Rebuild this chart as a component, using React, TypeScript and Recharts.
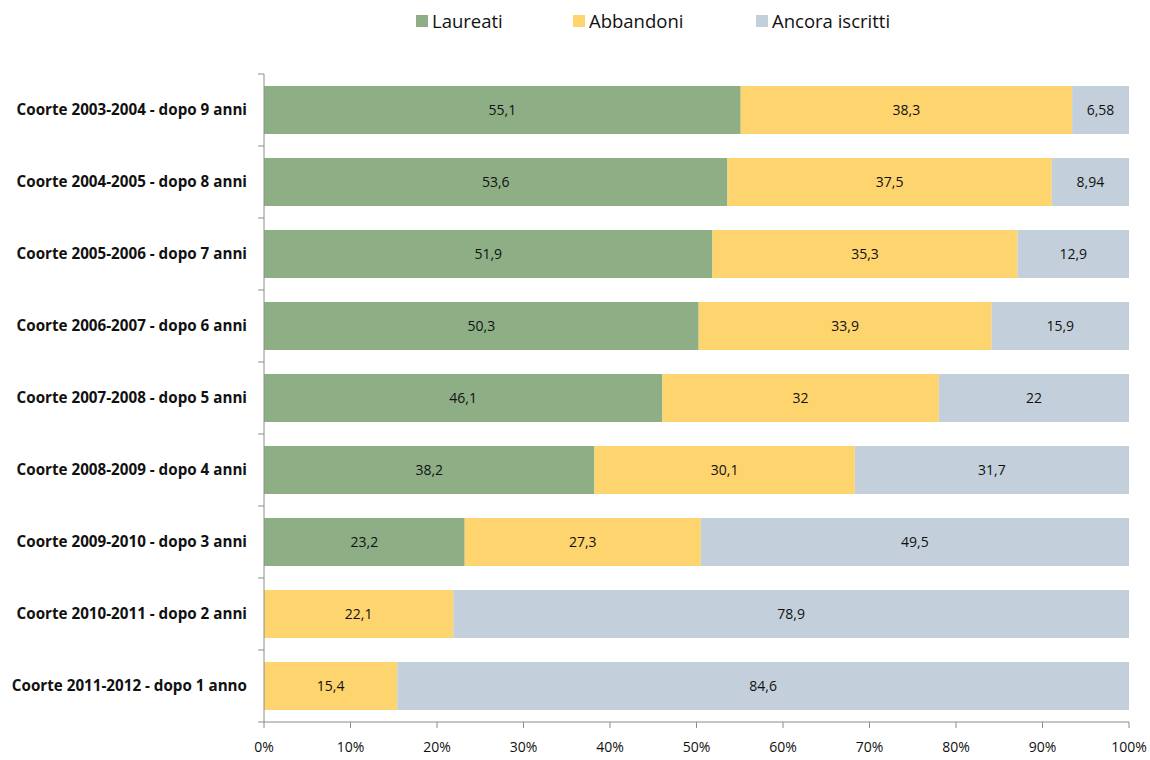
import React from 'react'
import { BarChart, Bar, XAxis, YAxis, LabelList } from 'recharts'

const categories = [
  'Coorte 2003-2004 - dopo 9 anni',
  'Coorte 2004-2005 - dopo 8 anni',
  'Coorte 2005-2006 - dopo 7 anni',
  'Coorte 2006-2007 - dopo 6 anni',
  'Coorte 2007-2008 - dopo 5 anni',
  'Coorte 2008-2009 - dopo 4 anni',
  'Coorte 2009-2010 - dopo 3 anni',
  'Coorte 2010-2011 - dopo 2 anni',
  'Coorte 2011-2012 - dopo 1 anno',
]
const laureati = [55.1, 53.6, 51.9, 50.3, 46.1, 38.2, 23.2, 0, 0]
const abbandoni = [38.3, 37.5, 35.3, 33.9, 32, 30.1, 27.3, 22.1, 15.4]
const ancoraIscritti = [6.58, 8.94, 12.9, 15.9, 22, 31.7, 49.5, 78.9, 84.6]
const xTicks = [0, 0.1, 0.2, 0.3, 0.4, 0.5, 0.6, 0.7, 0.8, 0.9, 1]

const series = [
  { key: 'laureati', name: 'Laureati', color: '#8EAF86', legendX: 416 },
  { key: 'abbandoni', name: 'Abbandoni', color: '#FED46F', legendX: 573 },
  { key: 'ancora', name: 'Ancora iscritti', color: '#C3D0DB', legendX: 756 },
]

const data = categories.map((name, i) => ({
  name,
  laureati: laureati[i],
  abbandoni: abbandoni[i],
  ancora: ancoraIscritti[i],
}))

const FONT = '"Open Sans", Lato, sans-serif'
const AXIS = '#8C8C8C'
const TOP = 74
const PLOT_H = 648
const BAND = PLOT_H / categories.length

const fmt = (v: any) => (v ? String(v).replace('.', ',') : '')

const CategoryTick = (props: any) => {
  const { x, y, payload, index } = props
  // x sits 8px left of the axis line here
  return (
    <g>
      <text x={x - 9} y={y} dy={5} textAnchor="end" fontSize={15.2} fontWeight={700} fill="#111" fontFamily={FONT}>
        {payload.value}
      </text>
      <line x1={x + 2} x2={x + 8} y1={y - BAND / 2} y2={y - BAND / 2} stroke={AXIS} />
      {index === categories.length - 1 && (
        <line x1={x + 2} x2={x + 8} y1={y + BAND / 2} y2={y + BAND / 2} stroke={AXIS} />
      )}
    </g>
  )
}

export default function App() {
  return (
    <div style={{ position: 'absolute', left: 0, top: 0, width: 1150, height: 760, background: '#fff' }}>
      {series.map((s) => (
        <div
          key={s.key}
          style={{
            position: 'absolute',
            top: 8,
            left: s.legendX,
            display: 'flex',
            alignItems: 'center',
            fontFamily: FONT,
            fontSize: 18.5,
            color: '#111',
            whiteSpace: 'nowrap',
          }}
        >
          <span style={{ width: 12, height: 12, background: s.color, display: 'inline-block', marginRight: 4 }} />
          {s.name}
        </div>
      ))}
      <BarChart
        width={1150}
        height={760}
        data={data}
        layout="vertical"
        stackOffset="expand"
        margin={{ top: TOP, right: 21, bottom: 0, left: 0 }}
        barSize={48}
      >
        <XAxis
          type="number"
          domain={[0, 1]}
          ticks={xTicks}
          tickFormatter={(v: number) => `${Math.round(v * 100)}%`}
          stroke={AXIS}
          tickSize={6}
          height={38}
          tick={{ fontSize: 14, fill: '#111', fontFamily: FONT, dy: 12 }}
        />
        <YAxis
          type="category"
          dataKey="name"
          width={264}
          stroke={AXIS}
          tickLine={false}
          tick={<CategoryTick />}
          interval={0}
        />
        {series.map((s) => (
          <Bar key={s.key} dataKey={s.key} name={s.name} stackId="a" fill={s.color} isAnimationActive={false}>
            <LabelList
              dataKey={s.key}
              position="center"
              formatter={fmt}
              style={{ fontSize: 14, fill: '#111', fontFamily: FONT }}
            />
          </Bar>
        ))}
      </BarChart>
    </div>
  )
}
